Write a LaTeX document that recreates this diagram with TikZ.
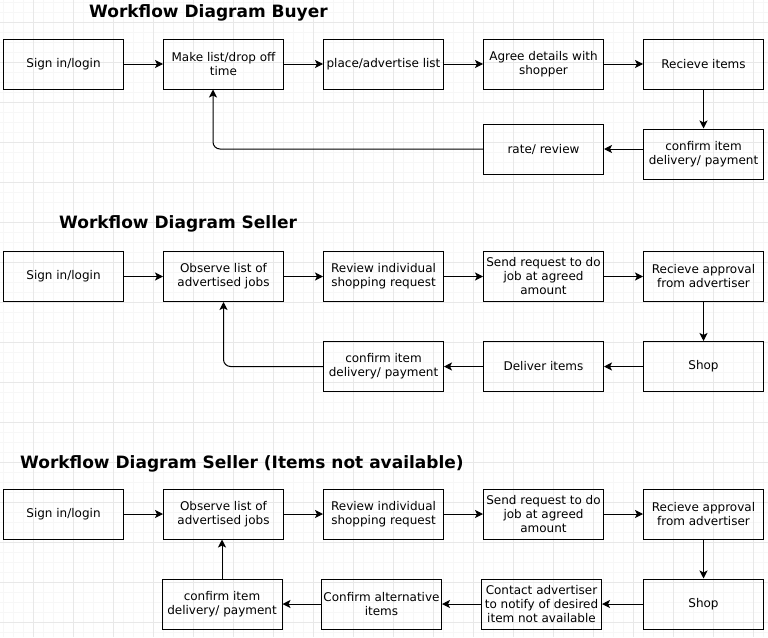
\documentclass[tikz,border=0pt]{standalone}
\usepackage{fontspec}
\setmainfont{DejaVu Sans}
\usepackage{tikz}
\usetikzlibrary{arrows.meta}
\definecolor{gridminor}{RGB}{247,247,247}
\definecolor{gridmajor}{RGB}{232,232,232}

\begin{document}
\begin{tikzpicture}[x=1pt, y=-1pt,
		>={Stealth[length=8pt, width=8pt, inset=2pt]},
		box/.style={draw, line width=1pt, minimum width=120pt, minimum height=50pt, inner xsep=1pt, align=center, font=\fontsize{12}{14}\selectfont},
		heading/.style={anchor=base west, inner sep=0pt, font=\fontsize{17}{20}\selectfont\bfseries},
		flow/.style={->, line width=1pt},
		back/.style={->, line width=1pt, rounded corners=7pt}]
			\useasboundingbox (0,0) rectangle (768,637);
			% background grid
			\foreach \gx in {3,13,...,763} \draw[gridminor, line width=1pt] (\gx,0) -- (\gx,637);
			\foreach \gy in {2,12,...,632} \draw[gridminor, line width=1pt] (0,\gy) -- (768,\gy);
			\foreach \gx in {33,73,...,753} \draw[gridmajor, line width=1pt] (\gx,0) -- (\gx,637);
			\foreach \gy in {22,62,...,622} \draw[gridmajor, line width=1pt] (0,\gy) -- (768,\gy);

			% buyer
			\draw[color=black]
			node[heading] (title_buyer) at (89, 17){Workflow Diagram Buyer}
			node[box] (buy_signin) at (63.5, 64){Sign in/login}
			node[box] (buy_makelist) at (223.5, 64){Make list/drop off\\time}
			node[box] (buy_place) at (383.5, 64){place/advertise list}
			node[box] (buy_agree) at (543.5, 64){Agree details with\\shopper}
			node[box] (buy_recieve) at (703.5, 64){Recieve items}
			node[box] (buy_confirm) at (703.5, 154){confirm item\\delivery/ payment}
			node[box] (buy_rate) at (543.5, 149){rate/ review};
			\draw [flow] (buy_signin) -- (buy_makelist);
			\draw [flow] (buy_makelist) -- (buy_place);
			\draw [flow] (buy_place) -- (buy_agree);
			\draw [flow] (buy_agree) -- (buy_recieve);
			\draw [flow] (buy_recieve) -- (buy_confirm);
			\draw [flow] (buy_confirm.west |- buy_rate) -- (buy_rate.east);
			\draw [back] (buy_rate.west) -| ([xshift=-10.5pt]buy_makelist.south);

			% seller
			\draw[color=black]
			node[heading] (title_seller) at (59, 228){Workflow Diagram Seller}
			node[box] (sel_signin) at (63.5, 276.5){Sign in/login}
			node[box] (sel_observe) at (223.5, 276.5){Observe list of\\advertised jobs}
			node[box] (sel_review) at (383.5, 276.5){Review individual\\shopping request}
			node[box] (sel_send) at (543.5, 276.5){Send request to do\\job at agreed\\amount}
			node[box] (sel_approval) at (703.5, 276.5){Recieve approval\\from advertiser}
			node[box] (sel_shop) at (703.5, 366.5){Shop}
			node[box] (sel_deliver) at (543.5, 366.5){Deliver items}
			node[box] (sel_confirm) at (383.5, 366.5){confirm item\\delivery/ payment};
			\draw [flow] (sel_signin) -- (sel_observe);
			\draw [flow] (sel_observe) -- (sel_review);
			\draw [flow] (sel_review) -- (sel_send);
			\draw [flow] (sel_send) -- (sel_approval);
			\draw [flow] (sel_approval) -- (sel_shop);
			\draw [flow] (sel_shop) -- (sel_deliver);
			\draw [flow] (sel_deliver) -- (sel_confirm);
			\draw [back] (sel_confirm.west) -| (sel_observe.south);

			% seller, items not available
			\draw[color=black]
			node[heading] (title_unavail) at (20, 468){Workflow Diagram Seller (Items not available)}
			node[box] (una_signin) at (63.5, 514){Sign in/login}
			node[box] (una_observe) at (223.5, 514){Observe list of\\advertised jobs}
			node[box] (una_review) at (383.5, 514){Review individual\\shopping request}
			node[box] (una_send) at (543.5, 514){Send request to do\\job at agreed\\amount}
			node[box] (una_approval) at (703.5, 514){Recieve approval\\from advertiser}
			node[box] (una_shop) at (703.5, 604){Shop}
			node[box] (una_contact) at (541.5, 604){Contact advertiser\\to notify of desired\\item not available}
			node[box] (una_alt) at (381.5, 604){Confirm alternative\\items}
			node[box] (una_confirm) at (222, 604){confirm item\\delivery/ payment};
			\draw [flow] (una_signin) -- (una_observe);
			\draw [flow] (una_observe) -- (una_review);
			\draw [flow] (una_review) -- (una_send);
			\draw [flow] (una_send) -- (una_approval);
			\draw [flow] (una_approval) -- (una_shop);
			\draw [flow] (una_shop) -- (una_contact);
			\draw [flow] (una_contact) -- (una_alt);
			\draw [flow] (una_alt) -- (una_confirm);
			\draw [flow] (una_confirm.north) -- (una_confirm.north |- una_observe.south);
		\end{tikzpicture}
\end{document}
